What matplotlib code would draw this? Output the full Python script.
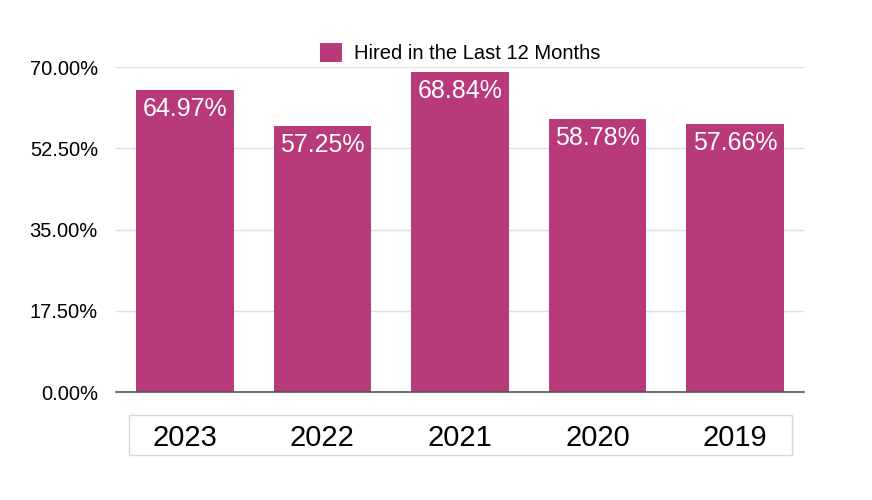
import matplotlib.pyplot as plt
from matplotlib.patches import Rectangle

plt.rcParams['font.family'] = ['Liberation Sans', 'DejaVu Sans']

years = ['2023', '2022', '2021', '2020', '2019']
hired = [64.97, 57.25, 68.84, 58.78, 57.66]
yticks = [0, 17.5, 35, 52.5, 70]

bar_color = '#B83A78'

fig = plt.figure(figsize=(8.72, 5.0), dpi=100)
ax = fig.add_axes([0.133, 0.216, 0.789, 0.65])

x = list(range(len(years)))
ax.bar(x, hired, width=0.71, color=bar_color, label='Hired in the Last 12 Months', zorder=3)

ax.set_xlim(-0.5, len(years) - 0.5)
ax.set_ylim(0, 70)
ax.set_yticks(yticks)
ax.set_yticklabels(['%.2f%%' % v for v in yticks], fontsize=14.5)
ax.grid(axis='y', color='#e0e0e0', linewidth=1, zorder=0)
ax.tick_params(axis='y', length=0, pad=13)

ax.set_xticks(x)
ax.set_xticklabels(years, fontsize=21)
ax.tick_params(axis='x', length=0, pad=23)

for s in ['top', 'right', 'left']:
    ax.spines[s].set_visible(False)
ax.spines['bottom'].set_color('#555555')
ax.spines['bottom'].set_linewidth(1.2)
ax.spines['bottom'].set_zorder(4)

for xi, v in zip(x, hired):
    ax.annotate('%.2f%%' % v, xy=(xi, v), xytext=(0, -5), textcoords='offset points',
                ha='center', va='top', color='white', fontsize=18, zorder=5)

# box around the category labels
fig.patches.append(Rectangle((129 / 872, 1 - 455 / 500), (792 - 129) / 872, 40 / 500,
                             transform=fig.transFigure, fill=False,
                             edgecolor='#d8d8d8', linewidth=1))

ax.legend(loc='lower center', bbox_to_anchor=(0.5, 0.975), frameon=False,
          fontsize=14.5, handlelength=1.1, handleheight=1.1, handletextpad=0.6,
          borderaxespad=0.2)

fig.savefig('out.png', dpi=100)
